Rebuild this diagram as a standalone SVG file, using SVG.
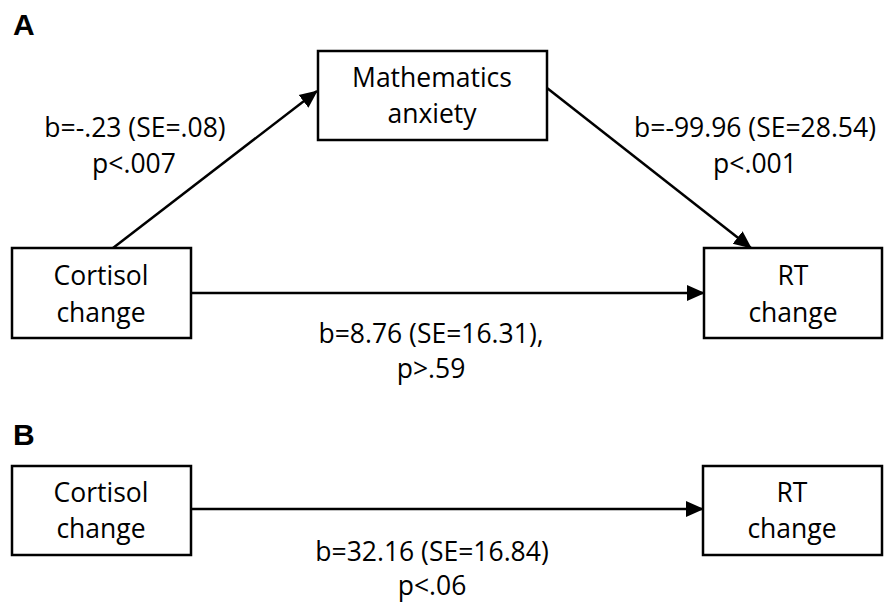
<svg xmlns="http://www.w3.org/2000/svg" width="895" height="604" viewBox="0 0 895 604">
<style>
.box{fill:#fff;stroke:#000;stroke-width:2.5}
.t{font-family:"Open Sans","Liberation Sans",sans-serif;font-size:26.5px;fill:#000;text-anchor:middle}
.lbl{font-family:"Liberation Sans",Arial,sans-serif;font-size:30px;font-weight:bold;fill:#000}
.c{stroke:#000;stroke-width:2.5;fill:none;marker-end:url(#ah)}
</style>
<defs>
<marker id="ah" markerUnits="userSpaceOnUse" markerWidth="18" markerHeight="18" viewBox="0 0 18 18" refX="17" refY="9" orient="auto">
<path d="M0,1 L18,9 L0,17 Z" fill="#000"/>
</marker>
</defs>
<rect width="895" height="604" fill="#fff"/>
<text class="lbl" x="13" y="35">A</text>
<text class="lbl" x="13" y="445">B</text>
<g id="connectors">
<line class="c" x1="113" y1="248" x2="317" y2="91"/>
<line class="c" x1="547" y1="88" x2="751" y2="248"/>
<line class="c" x1="191" y1="293" x2="704" y2="293"/>
<line class="c" x1="191" y1="509" x2="703" y2="509"/>
</g>
<g id="math">
<rect class="box" x="318" y="51" width="229" height="89"/>
<text class="t" x="432" y="87">Mathematics</text>
<text class="t" x="432" y="123">anxiety</text>
</g>
<g id="cortA">
<rect class="box" x="12" y="248" width="179" height="90"/>
<text class="t" x="101" y="285">Cortisol</text>
<text class="t" x="101" y="322">change</text>
</g>
<g id="rtA">
<rect class="box" x="704" y="248" width="178" height="90"/>
<text class="t" x="793" y="285">RT</text>
<text class="t" x="793" y="322">change</text>
</g>
<g id="cortB">
<rect class="box" x="12" y="466" width="179" height="89"/>
<text class="t" x="101" y="502">Cortisol</text>
<text class="t" x="101" y="538">change</text>
</g>
<g id="rtB">
<rect class="box" x="703" y="466" width="179" height="89"/>
<text class="t" x="792" y="502">RT</text>
<text class="t" x="792" y="538">change</text>
</g>
<g id="labels">
<text class="t" x="135" y="137">b=-.23 (SE=.08)</text>
<text class="t" x="134" y="173">p&lt;.007</text>
<text class="t" x="755" y="137">b=-99.96 (SE=28.54)</text>
<text class="t" x="755" y="173">p&lt;.001</text>
<text class="t" x="431" y="343">b=8.76 (SE=16.31),</text>
<text class="t" x="431" y="378">p&gt;.59</text>
<text class="t" x="432" y="561">b=32.16 (SE=16.84)</text>
<text class="t" x="432" y="595">p&lt;.06</text>
</g>
</svg>
